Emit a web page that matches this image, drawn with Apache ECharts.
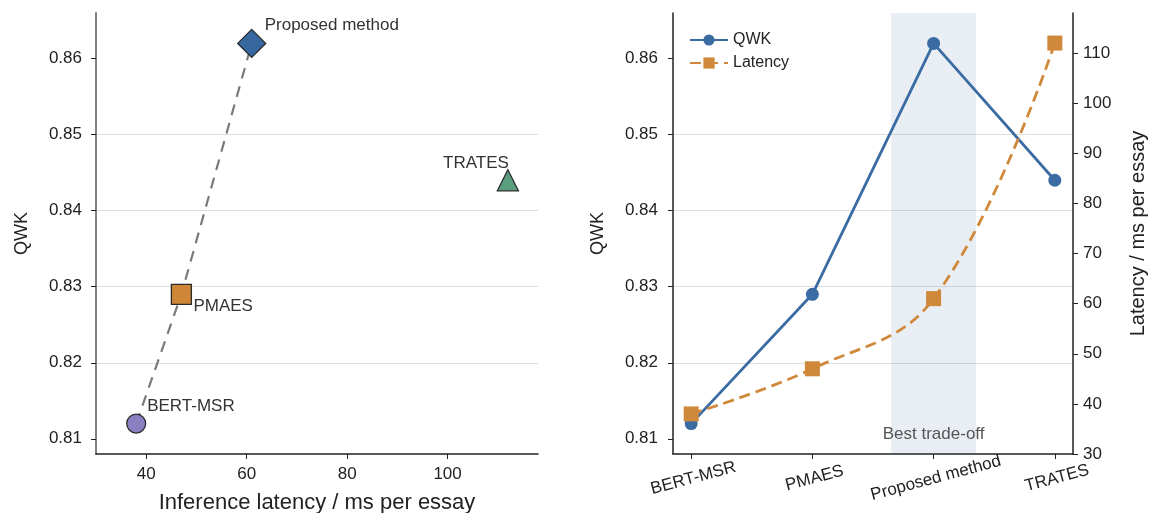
<!DOCTYPE html>
<html>
<head>
<meta charset="utf-8">
<script src="https://cdn.jsdelivr.net/npm/echarts@6/dist/echarts.min.js"></script>
<style>
  html, body { margin: 0; padding: 0; background: #fff; }
  #chart { width: 1153px; height: 513px; }
</style>
</head>
<body>
<div id="chart"></div>
<script>
// data
const methods = ['BERT-MSR', 'PMAES', 'Proposed method', 'TRATES'];
const latency = [38, 47, 61, 112];
const qwk = [0.812, 0.829, 0.862, 0.844];
const frontier = [0, 1, 2];
const categoryPos = [0, 1, 2, 3];
const latencyTicks = [40, 60, 80, 100];
const qwkTicks = [0.81, 0.82, 0.83, 0.84, 0.85, 0.86];
const latencyRightTicks = [30, 40, 50, 60, 70, 80, 90, 100, 110];
const bestBand = [1.65, 2.35];
const bandLabel = 'Best trade-off';

const FONT = '"Liberation Sans", Arial, sans-serif';
const BLUE = '#3a6ba3';
const ORANGE = '#d0883a';

// marker look per method in the scatter panel
const markers = [
  { symbol: 'circle', size: 19, color: '#8a7fc1', align: 'left', offset: [11, -17] },
  { symbol: 'rect', size: 20, color: '#cf8636', align: 'left', offset: [12, 12] },
  { symbol: 'diamond', size: 28, color: '#36689f', align: 'left', offset: [13, -18] },
  { symbol: 'triangle', size: 21, color: '#5b9e7f', align: 'right', offset: [1, -17] }
];

const chart = echarts.init(document.getElementById('chart'));

const tickLabel = { color: '#222', fontSize: 17, fontFamily: FONT };
const nameStyle = { color: '#222', fontSize: 20, fontFamily: FONT };

chart.setOption({
  animation: false,
  textStyle: { fontFamily: FONT },
  grid: [
    { left: 96, top: 13, width: 442, height: 441, outerBoundsMode: 'none' },
    { left: 673, top: 13, width: 400, height: 441, outerBoundsMode: 'none' }
  ],
  legend: {
    data: ['QWK', 'Latency'],
    orient: 'vertical',
    left: 684,
    top: 27,
    itemWidth: 38,
    itemHeight: 14,
    itemGap: 7,
    textStyle: { color: '#222', fontSize: 16, fontFamily: FONT }
  },
  xAxis: [
    {
      gridIndex: 0,
      type: 'value',
      min: 30,
      max: 118,
      name: 'Inference latency / ms per essay',
      nameLocation: 'middle',
      nameGap: 38,
      nameTextStyle: { color: '#222', fontSize: 22, fontFamily: FONT },
      axisLine: { onZero: false, lineStyle: { color: '#222', width: 1.5 } },
      axisTick: { customValues: latencyTicks, length: 5, lineStyle: { color: '#222' } },
      axisLabel: Object.assign({ customValues: latencyTicks, margin: 12 }, tickLabel),
      splitLine: { show: false }
    },
    {
      gridIndex: 1,
      type: 'value',
      min: -0.15,
      max: 3.15,
      axisLine: { onZero: false, lineStyle: { color: '#222', width: 1.5 } },
      axisTick: { customValues: categoryPos, length: 5, lineStyle: { color: '#222' } },
      axisLabel: Object.assign({
        customValues: categoryPos,
        formatter: v => methods[Math.round(v)],
        rotate: 15,
        align: 'center',
        verticalAlign: 'top',
        margin: 16
      }, tickLabel),
      splitLine: { show: false }
    }
  ],
  yAxis: [
    {
      gridIndex: 0,
      type: 'value',
      min: 0.808,
      max: 0.866,
      minInterval: 0.01,
      maxInterval: 0.01,
      name: 'QWK',
      nameLocation: 'middle',
      nameGap: 65,
      nameTextStyle: Object.assign({}, nameStyle, { fontSize: 18 }),
      axisLine: { show: true, onZero: false, lineStyle: { color: '#808080', width: 2 } },
      axisTick: { show: true, customValues: qwkTicks, length: 5, lineStyle: { color: '#222' } },
      axisLabel: Object.assign({ customValues: qwkTicks, formatter: v => v.toFixed(2), margin: 14 }, tickLabel),
      splitLine: { show: true, showMinLine: false, showMaxLine: false, lineStyle: { color: '#dedede', width: 1 } }
    },
    {
      gridIndex: 1,
      type: 'value',
      min: 0.808,
      max: 0.866,
      minInterval: 0.01,
      maxInterval: 0.01,
      name: 'QWK',
      nameLocation: 'middle',
      nameGap: 66,
      nameTextStyle: Object.assign({}, nameStyle, { fontSize: 18 }),
      axisLine: { show: true, onZero: false, lineStyle: { color: '#222', width: 1.5 } },
      axisTick: { show: true, customValues: qwkTicks, length: 5, lineStyle: { color: '#222' } },
      axisLabel: Object.assign({ customValues: qwkTicks, formatter: v => v.toFixed(2), margin: 15 }, tickLabel),
      splitLine: { show: true, showMinLine: false, showMaxLine: false, lineStyle: { color: '#dedede', width: 1 } }
    },
    {
      gridIndex: 1,
      type: 'value',
      position: 'right',
      min: 30,
      max: 118,
      name: 'Latency / ms per essay',
      nameLocation: 'middle',
      nameGap: 55,
      nameTextStyle: nameStyle,
      axisLine: { show: true, onZero: false, lineStyle: { color: '#222', width: 1.5 } },
      axisTick: { show: true, customValues: latencyRightTicks, length: 5, lineStyle: { color: '#222' } },
      axisLabel: Object.assign({ customValues: latencyRightTicks, margin: 10 }, tickLabel),
      splitLine: { show: false }
    }
  ],
  series: [
    // dashed frontier through the non-dominated methods
    {
      type: 'line',
      xAxisIndex: 0,
      yAxisIndex: 0,
      data: frontier.map(i => [latency[i], qwk[i]]),
      showSymbol: false,
      silent: true,
      z: 1,
      lineStyle: { color: '#7a7a7a', width: 2.2, type: [11, 8] }
    },
    {
      type: 'scatter',
      xAxisIndex: 0,
      yAxisIndex: 0,
      z: 3,
      data: methods.map((m, i) => ({
        name: m,
        value: [latency[i], qwk[i]],
        symbol: markers[i].symbol,
        symbolSize: markers[i].size,
        itemStyle: { color: markers[i].color, borderColor: '#2b2b2b', borderWidth: 1.3, opacity: 1 },
        label: {
          show: true,
          formatter: m,
          position: 'inside',
          align: markers[i].align,
          verticalAlign: 'middle',
          offset: markers[i].offset,
          color: '#333',
          fontSize: 17,
          fontFamily: FONT
        }
      }))
    },
    {
      name: 'QWK',
      type: 'line',
      xAxisIndex: 1,
      yAxisIndex: 1,
      data: categoryPos.map((c, i) => [c, qwk[i]]),
      symbol: 'circle',
      symbolSize: 13,
      z: 3,
      itemStyle: { color: BLUE },
      lineStyle: { color: BLUE, width: 2.8 },
      markArea: {
        silent: true,
        itemStyle: { color: 'rgba(76,114,176,0.12)' },
        label: {
          show: true,
          position: 'insideBottom',
          distance: 11,
          color: '#555',
          fontSize: 17,
          fontFamily: FONT
        },
        data: [[{ xAxis: bestBand[0], name: bandLabel }, { xAxis: bestBand[1] }]]
      }
    },
    {
      name: 'Latency',
      type: 'line',
      xAxisIndex: 1,
      yAxisIndex: 2,
      data: categoryPos.map((c, i) => [c, latency[i]]),
      symbol: 'rect',
      symbolSize: 15,
      smooth: 0.4,
      z: 4,
      itemStyle: { color: ORANGE },
      lineStyle: { color: ORANGE, width: 2.8, type: [11, 6] }
    }
  ]
});
</script>
</body>
</html>
